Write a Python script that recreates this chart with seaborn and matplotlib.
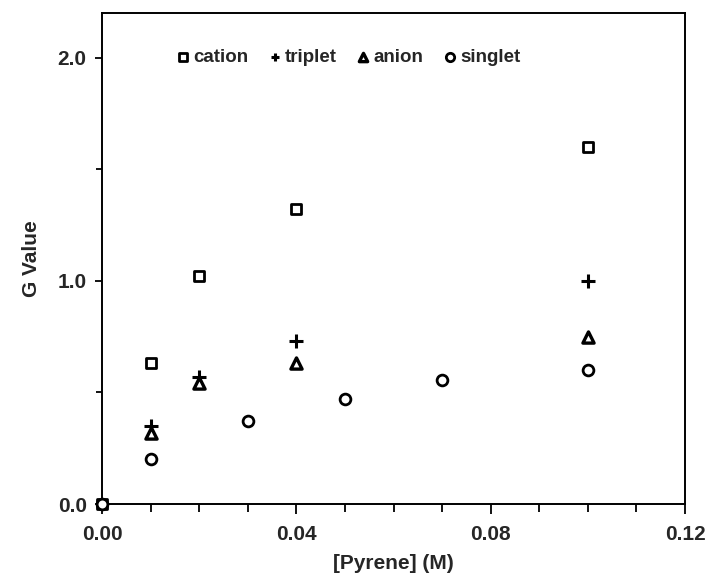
import matplotlib
matplotlib.use("Agg")
import matplotlib.pyplot as plt
import seaborn as sns
from matplotlib.ticker import MultipleLocator, FormatStrFormatter

cation_x = [0.0, 0.01, 0.02, 0.04, 0.10]
cation_y = [0.0, 0.63, 1.02, 1.32, 1.60]
triplet_x = [0.01, 0.02, 0.04, 0.10]
triplet_y = [0.35, 0.57, 0.73, 1.00]
anion_x = [0.01, 0.02, 0.04, 0.10]
anion_y = [0.32, 0.54, 0.63, 0.75]
singlet_x = [0.0, 0.01, 0.03, 0.05, 0.07, 0.10]
singlet_y = [0.0, 0.20, 0.37, 0.47, 0.555, 0.60]

sns.set_theme(style="ticks")
plt.rcParams['font.family'] = ['Liberation Sans', 'DejaVu Sans']
plt.rcParams['font.weight'] = 'bold'

fig = plt.figure(figsize=(7.07, 5.82), dpi=100)
ax = fig.add_axes([0.1443, 0.134, 0.8246, 0.8436])

sns.scatterplot(x=cation_x, y=cation_y, marker='s', s=60, facecolor='white',
                edgecolor='black', linewidth=2.0, ax=ax, label='cation', zorder=3)
sns.scatterplot(x=triplet_x, y=triplet_y, marker='+', s=110, color='black',
                linewidth=2.2, ax=ax, label='triplet', zorder=3)
sns.scatterplot(x=anion_x, y=anion_y, marker='^', s=65, facecolor='white',
                edgecolor='black', linewidth=2.4, ax=ax, label='anion', zorder=3)
sns.scatterplot(x=singlet_x, y=singlet_y, marker='o', s=60, facecolor='white',
                edgecolor='black', linewidth=2.0, ax=ax, label='singlet', zorder=3)
for coll in ax.collections:
    coll.set_clip_on(False)

ax.set_xlim(0, 0.12)
ax.set_ylim(0, 2.2)
ax.xaxis.set_major_locator(MultipleLocator(0.04))
ax.xaxis.set_minor_locator(MultipleLocator(0.01))
ax.yaxis.set_major_locator(MultipleLocator(1.0))
ax.yaxis.set_minor_locator(MultipleLocator(0.5))
ax.xaxis.set_major_formatter(FormatStrFormatter('%.2f'))
ax.yaxis.set_major_formatter(FormatStrFormatter('%.1f'))
ax.tick_params(which='both', direction='out', width=1.3, color='black',
               labelsize=15)
ax.tick_params(axis='x', which='major', length=7, pad=8)
ax.tick_params(axis='x', which='minor', length=6)
ax.tick_params(axis='y', which='major', length=5, pad=6)
ax.tick_params(axis='y', which='minor', length=4)
for lab in ax.get_xticklabels() + ax.get_yticklabels():
    lab.set_fontweight('bold')
for sp in ax.spines.values():
    sp.set_linewidth(1.4)
    sp.set_color('black')
    sp.set_visible(True)

ax.set_xlabel('[Pyrene] (M)', fontsize=15, fontweight='bold', labelpad=7)
ax.set_ylabel('G Value', fontsize=15, fontweight='bold', labelpad=12)

leg = ax.legend(loc='center left', bbox_to_anchor=(0.128, 0.910), ncol=4,
                frameon=False, fontsize=13.5, handletextpad=0.2,
                columnspacing=1.05, handlelength=0.7, borderaxespad=0,
                borderpad=0)
for t in leg.get_texts():
    t.set_fontweight('bold')
for h in leg.legend_handles:
    try:
        h.set_sizes([36])
    except Exception:
        pass

fig.savefig('out.png', dpi=100)
